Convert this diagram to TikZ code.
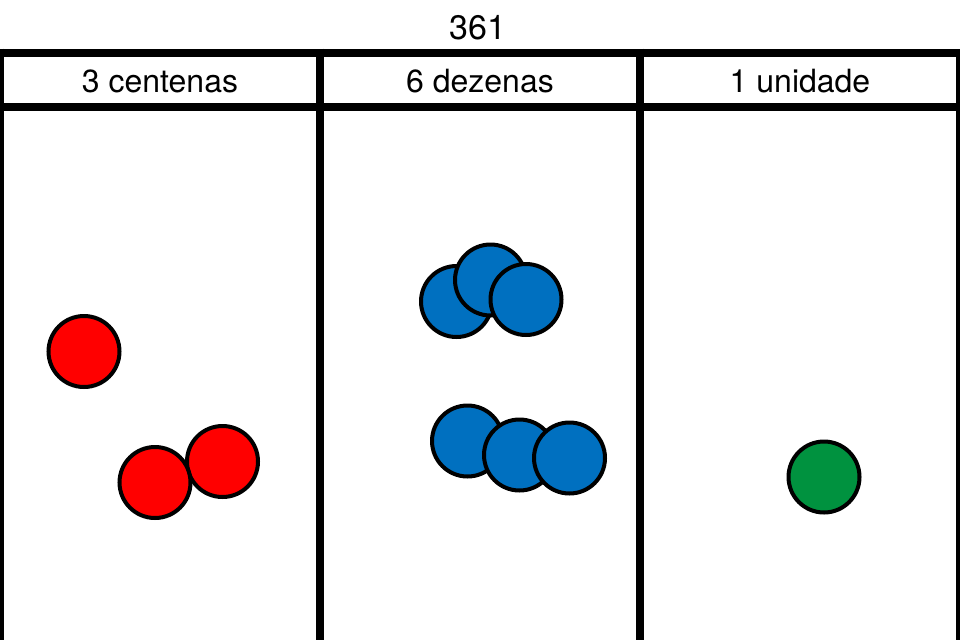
\documentclass[tikz,border=0pt]{standalone}
\usepackage{fontspec}
\setmainfont{TeX Gyre Heros}
\usetikzlibrary{positioning}
\definecolor{hundredred}{HTML}{FF0000}
\definecolor{tenblue}{HTML}{0070C0}
\definecolor{unitgreen}{HTML}{00923F}
\tikzset{%
  rule/.style     = {line width=8pt},%
  label/.style    = {anchor=base, font=\fontsize{32}{38}\selectfont},%
  counter/.style  = {circle, draw, line width=4pt, inner sep=0pt,%
                     minimum size=71pt},%
  hundred/.style  = {counter, fill=hundredred},%
  ten/.style      = {counter, fill=tenblue},%
  unit/.style     = {counter, fill=unitgreen}%
}

\begin{document}
\begin{tikzpicture}[x=1pt,y=-1pt]%
	\useasboundingbox (0,0) rectangle (960,640);
	% table
	\draw[rule] (0,52.5) -- (960,52.5);
	\draw[rule] (0,106.5) -- (960,106.5);
	\foreach \x in {0,320,640,960}
		\draw[rule] (\x,48.5) -- (\x,640);
	% texts
	\node[label, font=\fontsize{34}{40}\selectfont] (title) at (478,39.5) {361};
	\node[label] (hundreds) at (160,92) {3 centenas};
	\node[label] (tens) at (480,92) {6 dezenas};
	\node[label] (units) at (800,92) {1 unidade};
	% counters
	\node[hundred] (h1) at (84,351.5) {};
	\node[hundred] (h3) at (222.5,461.5) {};
	\node[hundred] (h2) at (155,482.5) {};
	\node[ten] (t1) at (456.5,301.5) {};
	\node[ten] (t2) at (490.5,280) {};
	\node[ten] (t3) at (526,299.5) {};
	\node[ten] (t4) at (467.5,441) {};
	\node[ten] (t5) at (519.5,455) {};
	\node[ten] (t6) at (569.5,458) {};
	\node[unit] (u1) at (824,477) {};
\end{tikzpicture}
\end{document}
